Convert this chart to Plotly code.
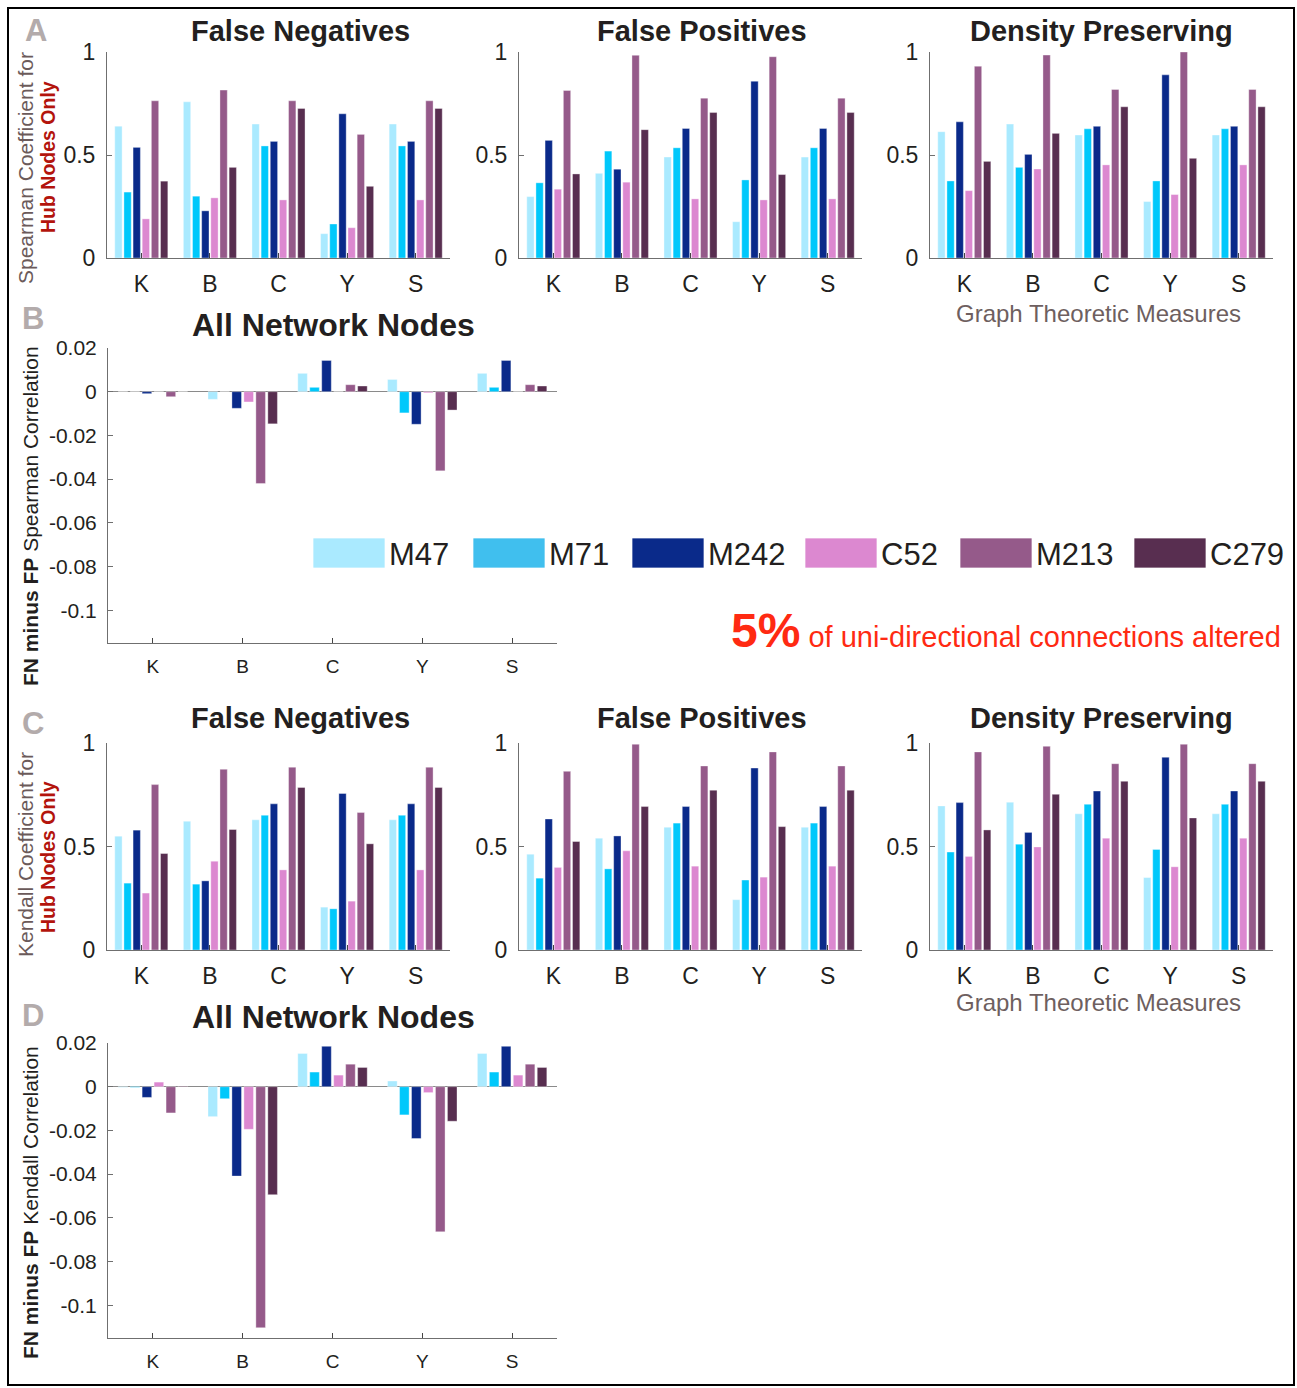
import plotly.graph_objects as go

W, H = 1297, 1388

categories = ["K", "B", "C", "Y", "S"]
series_names = ["M47", "M71", "M242", "C52", "M213", "C279"]

# Panel A: Spearman coefficient, hub nodes only (rows = series, cols = categories)
spearman_fn = [
    [0.64, 0.758, 0.65, 0.118, 0.65],
    [0.32, 0.30, 0.544, 0.165, 0.544],
    [0.537, 0.229, 0.566, 0.70, 0.566],
    [0.19, 0.292, 0.282, 0.147, 0.282],
    [0.763, 0.815, 0.763, 0.60, 0.763],
    [0.373, 0.44, 0.726, 0.348, 0.726],
]
spearman_fp = [
    [0.298, 0.411, 0.49, 0.176, 0.49],
    [0.365, 0.519, 0.535, 0.379, 0.535],
    [0.571, 0.431, 0.629, 0.858, 0.629],
    [0.334, 0.368, 0.287, 0.282, 0.287],
    [0.813, 0.984, 0.776, 0.977, 0.776],
    [0.408, 0.623, 0.706, 0.405, 0.706],
]
spearman_dp = [
    [0.613, 0.65, 0.597, 0.274, 0.597],
    [0.374, 0.44, 0.627, 0.374, 0.627],
    [0.661, 0.503, 0.639, 0.889, 0.639],
    [0.327, 0.432, 0.452, 0.308, 0.452],
    [0.931, 0.985, 0.818, 1.0, 0.818],
    [0.469, 0.605, 0.734, 0.484, 0.734],
]
# Panel B: FN minus FP Spearman correlation, all nodes
spearman_diff = [
    [0.0, -0.0035, 0.0084, 0.0056, 0.0084],
    [0.0, 0.0, 0.002, -0.0097, 0.002],
    [-0.0009, -0.0076, 0.0143, -0.0149, 0.0143],
    [0.0, -0.0047, 0.0, -0.0005, 0.0],
    [-0.0023, -0.042, 0.0032, -0.0362, 0.0032],
    [0.0, -0.0147, 0.0026, -0.0084, 0.0026],
]
# Panel C: Kendall coefficient, hub nodes only
kendall_fn = [
    [0.55, 0.622, 0.629, 0.207, 0.629],
    [0.323, 0.318, 0.651, 0.199, 0.651],
    [0.579, 0.334, 0.706, 0.756, 0.706],
    [0.275, 0.429, 0.387, 0.236, 0.387],
    [0.799, 0.873, 0.883, 0.664, 0.883],
    [0.466, 0.582, 0.785, 0.513, 0.785],
]
kendall_fp = [
    [0.463, 0.54, 0.593, 0.243, 0.593],
    [0.347, 0.392, 0.613, 0.338, 0.613],
    [0.633, 0.551, 0.693, 0.879, 0.693],
    [0.399, 0.479, 0.405, 0.352, 0.405],
    [0.863, 0.994, 0.889, 0.957, 0.889],
    [0.524, 0.693, 0.772, 0.596, 0.772],
]
kendall_dp = [
    [0.696, 0.714, 0.658, 0.35, 0.658],
    [0.473, 0.511, 0.704, 0.486, 0.704],
    [0.712, 0.568, 0.768, 0.931, 0.768],
    [0.452, 0.498, 0.54, 0.402, 0.54],
    [0.957, 0.984, 0.9, 0.994, 0.9],
    [0.58, 0.752, 0.815, 0.638, 0.815],
]
# Panel D: FN minus FP Kendall correlation, all nodes
kendall_diff = [
    [-0.0003, -0.0137, 0.0152, 0.0026, 0.0152],
    [-0.0003, -0.0055, 0.0067, -0.0129, 0.0067],
    [-0.0049, -0.0409, 0.0185, -0.0237, 0.0185],
    [0.0021, -0.0195, 0.0053, -0.0027, 0.0053],
    [-0.012, -0.1103, 0.0103, -0.0664, 0.0103],
    [0.0003, -0.0494, 0.0088, -0.0158, 0.0088],
]
hub_titles = ["False Negatives", "False Positives", "Density Preserving"]
diff_ticks = [-0.1, -0.08, -0.06, -0.04, -0.02, 0, 0.02]
diff_ticktext = ["-0.1", "-0.08", "-0.06", "-0.04", "-0.02", "0", "0.02"]

bar_colors = ["#aaeaff", "#00c8fb", "#0a2a8a", "#dc88d0", "#955a8a", "#582e50"]
legend_colors = ["#aaeaff", "#40bfee", "#0a2a8a", "#dc88d0", "#955a8a", "#582e50"]

FONT = "Liberation Sans, Arial, sans-serif"
NARROW = "Liberation Sans Narrow, Arial Narrow, Liberation Sans, Arial, sans-serif"
TXT = "#231f20"
AXC = "#6f6f6f"


def px(x):
    return x / W


def py(y):
    return 1 - y / H


# subplot boxes in pixels: (x0, x1, ytop, ybottom), data, kind
panels = [
    ((107, 450, 52, 258), spearman_fn, "hub"),
    ((519, 862, 52, 258), spearman_fp, "hub"),
    ((930, 1273, 52, 258), spearman_dp, "hub"),
    ((108, 557, 348, 643), spearman_diff, "diff"),
    ((107, 450, 743, 950), kendall_fn, "hub"),
    ((519, 862, 743, 950), kendall_fp, "hub"),
    ((930, 1273, 743, 950), kendall_dp, "hub"),
    ((108, 557, 1043, 1338), kendall_diff, "diff"),
]

fig = go.Figure()
layout = {}
for i, (box, data, kind) in enumerate(panels):
    n = i + 1
    xa = "x" if n == 1 else f"x{n}"
    ya = "y" if n == 1 else f"y{n}"
    for s, name in enumerate(series_names):
        fig.add_trace(go.Bar(
            x=categories, y=data[s], name=name, xaxis=xa, yaxis=ya,
            marker=dict(color=bar_colors[s], line=dict(width=0.6, color="rgba(255,255,255,0.6)")),
            showlegend=False, hoverinfo="skip",
        ))
    x0, x1, yt, yb = box
    xkey = "xaxis" if n == 1 else f"xaxis{n}"
    ykey = "yaxis" if n == 1 else f"yaxis{n}"
    big = kind == "hub"
    layout[xkey] = dict(
        domain=[px(x0), px(x1)], anchor=ya, range=[-0.5, 4.5], automargin=False,
        showline=True, linecolor=AXC, linewidth=1, mirror=False,
        ticks="inside", ticklen=5, tickcolor="#444", showgrid=False, zeroline=False,
        tickfont=dict(family=FONT, size=23 if big else 19, color=TXT),
        ticklabelstandoff=5 if big else 6, fixedrange=True,
    )
    if big:
        layout[ykey] = dict(
            domain=[py(yb), py(yt)], anchor=xa, range=[0, 1], automargin=False,
            tickvals=[0, 0.5, 1], ticktext=["0", "0.5", "1"],
            showline=True, linecolor=AXC, linewidth=1, ticks="inside", ticklen=5,
            tickcolor=AXC, showgrid=False, zeroline=False,
            tickfont=dict(family=FONT, size=23, color=TXT), ticklabelstandoff=6,
        )
    else:
        layout[ykey] = dict(
            domain=[py(yb), py(yt)], anchor=xa, range=[-0.115, 0.02], automargin=False,
            tickvals=diff_ticks, ticktext=diff_ticktext,
            showline=True, linecolor=AXC, linewidth=1, ticks="inside", ticklen=5,
            tickcolor=AXC, showgrid=False, zeroline=True, zerolinecolor="#8a8a8a",
            zerolinewidth=1,
            tickfont=dict(family=FONT, size=21, color=TXT), ticklabelstandoff=6,
        )

ann = []


def text(x, y, t, size, color=TXT, bold=False, family=FONT, angle=0, xanchor="center"):
    if bold:
        t = f"<b>{t}</b>"
    ann.append(dict(x=px(x), y=py(y), xref="paper", yref="paper", text=t, showarrow=False,
                    font=dict(family=family, size=size, color=color), textangle=angle,
                    xanchor=xanchor, yanchor="middle"))


# titles
for cx, t in zip([300, 702, 1101], hub_titles):
    text(cx, 31, t, 29, bold=True)
    text(cx, 718, t, 29, bold=True)
text(333, 325, "All Network Nodes", 32, bold=True)
text(333, 1017, "All Network Nodes", 32, bold=True)
text(1098, 313, "Graph Theoretic Measures", 24, color="#6e5f5f")
text(1098, 1002, "Graph Theoretic Measures", 24, color="#6e5f5f")

# panel letters
for (lx, ly, L) in [(36, 30, "A"), (33, 319, "B"), (33, 723, "C"), (33, 1015, "D")]:
    text(lx, ly, L, 31, color="#b3abab", bold=True)

# y axis titles
text(25, 168, "Spearman Coefficient for", 21, color="#6b5a5a", angle=-90)
text(48, 157, "Hub Nodes Only", 19.5, color="#b3140c", bold=True, angle=-90)
text(25, 855, "Kendall Coefficient for", 21, color="#6b5a5a", angle=-90)
text(48, 857, "Hub Nodes Only", 19.5, color="#b3140c", bold=True, angle=-90)
text(30, 516, "<b>FN minus FP</b> Spearman Correlation", 21, color=TXT, angle=-90)
text(30, 1203, "<b>FN minus FP</b> Kendall Correlation", 21, color=TXT, angle=-90)

# legend (manual patches)
leg_x = [313, 473, 632, 805, 960, 1134]
shapes = []
for lx, name, col in zip(leg_x, series_names, legend_colors):
    shapes.append(dict(type="rect", xref="paper", yref="paper",
                       x0=px(lx), x1=px(lx + 72), y0=py(568), y1=py(538),
                       fillcolor=col, line=dict(color="rgba(255,255,255,0.7)", width=1)))
    text(lx + 74, 554, name, 31, family=NARROW, xanchor="left")

# note
ann.append(dict(x=px(1283), y=py(630), xref="paper", yref="paper", showarrow=False,
                xanchor="right", yanchor="middle",
                text="<span style='font-size:48px'><b>5%</b></span> of uni-directional connections altered",
                font=dict(family=NARROW, size=29, color="#ff2a12")))

# outer border
shapes.append(dict(type="rect", xref="paper", yref="paper", x0=px(8), x1=px(1294),
                   y0=py(1385), y1=py(8), line=dict(color="black", width=2)))

fig.update_layout(
    template="none",
    width=W, height=H, autosize=False,
    margin=dict(l=0, r=0, t=0, b=0, pad=0, autoexpand=False),
    paper_bgcolor="white", plot_bgcolor="white",
    font=dict(family=FONT, color=TXT),
    barmode="group", bargap=0.2, bargroupgap=0.2,
    annotations=ann, shapes=shapes, showlegend=False,
    **layout,
)

# make the page exactly the figure: no body margin, no stray whitespace line boxes
pin_to_corner = (
    "var s=document.createElement('style');"
    "s.innerHTML='html,body{margin:0;padding:0;overflow:hidden;font-size:0;line-height:0;}"
    ".plotly-graph-div{position:absolute !important;top:0;left:0;}';"
    "document.head.appendChild(s);"
)
fig.write_html("out.html", post_script=pin_to_corner,
               config={"displayModeBar": False, "responsive": False})
